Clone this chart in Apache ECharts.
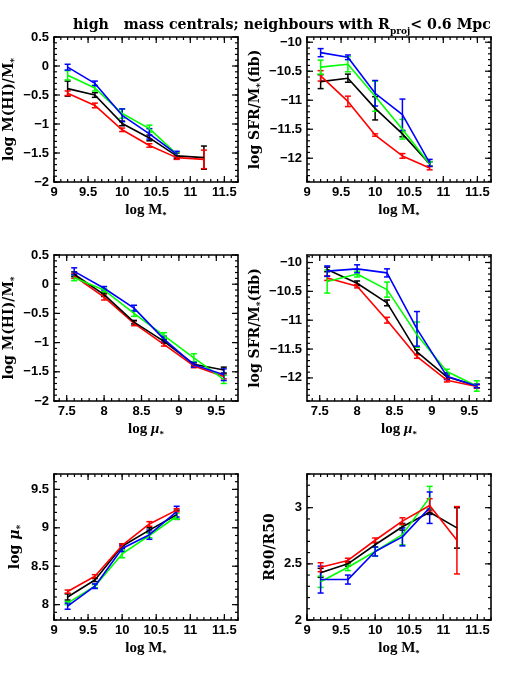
<!DOCTYPE html>
<html>
<head>
<meta charset="utf-8">
<script src="https://cdn.jsdelivr.net/npm/echarts@6/dist/echarts.min.js"></script>
<style>
html,body{margin:0;padding:0;background:#fff;}
#chart{width:518px;height:690px;}
</style>
</head>
<body>
<div id="chart"></div>
<script>
// ---------------- DATA ----------------
const xMass = [9.2, 9.6, 10.0, 10.4, 10.8, 11.2];
const xMu = [7.6, 8.0, 8.4, 8.8, 9.2, 9.6];

const massTicks = [9, 9.5, 10, 10.5, 11, 11.5];
const muTicks = [7.5, 8, 8.5, 9, 9.5];
const hiTicks = [0.5, 0, -0.5, -1, -1.5, -2];
const sfrTicks = [-10, -10.5, -11, -11.5, -12];
const muYTicks = [9.5, 9, 8.5, 8];
const rTicks = [3, 2.5, 2];

// Panel 1: log M(HI)/M* vs log M*
const p1Black = [-0.39, -0.50, -0.99, -1.24, -1.55, -1.58];
const p1BlackErr = [0.13, 0.04, 0.04, 0.05, 0.05, 0.20];
const p1Red = [-0.47, -0.68, -1.10, -1.37, -1.58, -1.61];
const p1RedErr = [0.04, 0.04, 0.03, 0.03, 0.03, 0.16];
const p1Green = [-0.16, -0.38, -0.82, -1.08, -1.52, null];
const p1GreenErr = [0.08, 0.05, 0.08, 0.06, 0.04, null];
const p1Blue = [-0.02, -0.30, -0.85, -1.17, -1.52, null];
const p1BlueErr = [0.05, 0.04, 0.11, 0.09, 0.05, null];

// Panel 2: log SFR/M*(fib) vs log M*
const p2Black = [-10.68, -10.62, -11.14, -11.58, -12.10, null];
const p2BlackErr = [0.12, 0.07, 0.20, 0.05, 0.04, null];
const p2Red = [-10.58, -11.02, -11.60, -11.96, -12.17, null];
const p2RedErr = [0.09, 0.09, 0.02, 0.04, 0.03, null];
const p2Green = [-10.43, -10.38, -10.93, -11.50, -12.10, null];
const p2GreenErr = [0.12, 0.13, 0.26, 0.17, 0.04, null];
const p2Blue = [-10.18, -10.26, -10.88, -11.25, -12.08, null];
const p2BlueErr = [0.07, 0.04, 0.22, 0.27, 0.06, null];

// Panel 3: log M(HI)/M* vs log mu*
const p3Black = [0.17, -0.18, -0.65, -0.98, -1.37, -1.47];
const p3BlackErr = [0.04, 0.03, 0.03, 0.03, 0.03, 0.05];
const p3Red = [0.14, -0.22, -0.67, -1.03, -1.40, -1.58];
const p3RedErr = [0.04, 0.05, 0.04, 0.03, 0.03, 0.04];
const p3Green = [0.11, -0.10, -0.50, -0.88, -1.26, -1.63];
const p3GreenErr = [0.05, 0.03, 0.05, 0.05, 0.07, 0.07];
const p3Blue = [0.22, -0.07, -0.41, -0.94, -1.38, -1.55];
const p3BlueErr = [0.06, 0.03, 0.05, 0.05, 0.04, 0.10];

// Panel 4: log SFR/M*(fib) vs log mu*
const p4Black = [-10.12, -10.36, -10.70, -11.55, -11.98, -12.14];
const p4BlackErr = [0.04, 0.04, 0.05, 0.04, 0.03, 0.03];
const p4Red = [-10.27, -10.41, -11.00, -11.63, -12.04, -12.15];
const p4RedErr = [0.04, 0.03, 0.05, 0.03, 0.03, 0.03];
const p4Green = [-10.33, -10.20, -10.47, -11.25, -11.89, -12.14];
const p4GreenErr = [0.20, 0.05, 0.13, 0.22, 0.04, 0.09];
const p4Blue = [-10.15, -10.11, -10.18, -11.15, -11.97, -12.14];
const p4BlueErr = [0.09, 0.07, 0.07, 0.30, 0.06, 0.03];

// Panel 5: log mu* vs log M*
const p5Black = [8.10, 8.32, 8.76, 8.97, 9.17, null];
const p5BlackErr = [0.04, 0.02, 0.03, 0.03, 0.06, null];
const p5Red = [8.17, 8.37, 8.77, 9.05, 9.23, null];
const p5RedErr = [0.02, 0.02, 0.02, 0.03, 0.02, null];
const p5Green = [8.02, 8.24, 8.66, 8.90, 9.15, null];
const p5GreenErr = [0.02, 0.02, 0.05, 0.03, 0.04, null];
const p5Blue = [7.98, 8.24, 8.73, 8.91, 9.21, null];
const p5BlueErr = [0.04, 0.03, 0.04, 0.06, 0.07, null];

// Panel 6: R90/R50 vs log M*
const p6Black = [2.42, 2.50, 2.67, 2.83, 2.96, 2.82];
const p6BlackErr = [0.04, 0.02, 0.02, 0.03, 0.02, 0.18];
const p6Red = [2.47, 2.53, 2.71, 2.88, 3.02, 2.71];
const p6RedErr = [0.04, 0.02, 0.02, 0.03, 0.06, 0.30];
const p6Green = [2.34, 2.47, 2.61, 2.76, 3.09, null];
const p6GreenErr = [0.05, 0.03, 0.04, 0.09, 0.10, null];
const p6Blue = [2.36, 2.36, 2.61, 2.74, 3.00, null];
const p6BlueErr = [0.12, 0.04, 0.04, 0.08, 0.14, null];

// ---------------- CHART ----------------
const COLORS = {black:'#000000', red:'#ff0000', green:'#00ff00', blue:'#0000ff'};
const SERIF = 'Liberation Serif';
const SERIF_Y = 'DejaVu Serif';
const SANS = 'Liberation Sans';

function richFor(family, size){
  return {
    a:{fontFamily:family, fontWeight:'bold', fontSize:size, color:'#000', lineHeight:20},
    i:{fontFamily:family, fontWeight:'bold', fontStyle:'italic', fontSize:size, color:'#000', lineHeight:20},
    s:{fontFamily:family, fontWeight:'bold', fontSize:9, color:'#000', verticalAlign:'bottom', lineHeight:20}
  };
}

const panels = [
  {grid:{left:54, top:37, width:184, height:145}, xMin:9, xMax:11.7, xTicks:massTicks, yMin:-2, yMax:0.5, yTicks:hiTicks,
   xName:'{a|log M}{s|*}', yName:'{a|log M(HI)/M}{s|*}', yGap:34, x:xMass,
   s:[['black',p1Black,p1BlackErr],['red',p1Red,p1RedErr],['green',p1Green,p1GreenErr],['blue',p1Blue,p1BlueErr]]},
  {grid:{left:307, top:37, width:184, height:145}, xMin:9, xMax:11.7, xTicks:massTicks, yMin:-12.41, yMax:-9.91, yTicks:sfrTicks,
   xName:'{a|log M}{s|*}', yName:'{a|log SFR/M}{s|*}{a|(fib)}', yGap:42, x:xMass,
   s:[['black',p2Black,p2BlackErr],['red',p2Red,p2RedErr],['green',p2Green,p2GreenErr],['blue',p2Blue,p2BlueErr]]},
  {grid:{left:54, top:255, width:184, height:146}, xMin:7.33, xMax:9.79, xTicks:muTicks, yMin:-2, yMax:0.5, yTicks:hiTicks,
   xName:'{a|log }{i|μ}{s|*}', yName:'{a|log M(HI)/M}{s|*}', yGap:34, x:xMu,
   s:[['red',p3Red,p3RedErr],['black',p3Black,p3BlackErr],['green',p3Green,p3GreenErr],['blue',p3Blue,p3BlueErr]]},
  {grid:{left:307, top:255, width:184, height:146}, xMin:7.33, xMax:9.79, xTicks:muTicks, yMin:-12.4, yMax:-9.87, yTicks:sfrTicks,
   xName:'{a|log }{i|μ}{s|*}', yName:'{a|log SFR/M}{s|*}{a|(fib)}', yGap:42, x:xMu,
   s:[['black',p4Black,p4BlackErr],['red',p4Red,p4RedErr],['green',p4Green,p4GreenErr],['blue',p4Blue,p4BlueErr]]},
  {grid:{left:54, top:474, width:184, height:146}, xMin:9, xMax:11.7, xTicks:massTicks, yMin:7.8, yMax:9.7, yTicks:muYTicks,
   xName:'{a|log M}{s|*}', yName:'{a|log }{i|μ}{s|*}', yGap:29, x:xMass,
   s:[['black',p5Black,p5BlackErr],['green',p5Green,p5GreenErr],['blue',p5Blue,p5BlueErr],['red',p5Red,p5RedErr]]},
  {grid:{left:307, top:474, width:184, height:146}, xMin:9, xMax:11.7, xTicks:massTicks, yMin:2, yMax:3.3, yTicks:rTicks,
   xName:'{a|log M}{s|*}', yName:'{a|R90/R50}', yGap:27, x:xMass,
   s:[['black',p6Black,p6BlackErr],['green',p6Green,p6GreenErr],['blue',p6Blue,p6BlueErr],['red',p6Red,p6RedErr]]}
];

function minorTicks(min, max){
  const out=[];
  const start=Math.ceil(min*10-1e-6), end=Math.floor(max*10+1e-6);
  for(let k=start;k<=end;k++) out.push(k/10);
  return out;
}
function fmt(v){
  const r=Math.round(v*100)/100;
  const s=String(Math.abs(r));
  return r<0 ? '\u2212'+s : s;
}

const grids=[], xAxes=[], yAxes=[], series=[];
panels.forEach((p,g)=>{
  grids.push(Object.assign({containLabel:false}, p.grid));
  const lineSt={show:true, onZero:false, lineStyle:{color:'#000', width:1.6}};
  xAxes.push({type:'value', gridIndex:g, position:'bottom', min:p.xMin, max:p.xMax,
    axisLine:lineSt, splitLine:{show:false}, axisTick:{show:false},
    axisLabel:{show:true, customValues:p.xTicks, formatter:fmt, margin:4, color:'#000', fontFamily:SANS, fontWeight:'bold', fontSize:13},
    name:p.xName, nameLocation:'middle', nameGap:18, nameTextStyle:{rich:richFor(SERIF, 15)}});
  xAxes.push({type:'value', gridIndex:g, position:'top', min:p.xMin, max:p.xMax,
    axisLine:lineSt, splitLine:{show:false}, axisLabel:{show:false}, axisTick:{show:false}});
  yAxes.push({type:'value', gridIndex:g, position:'left', min:p.yMin, max:p.yMax,
    axisLine:lineSt, splitLine:{show:false}, axisTick:{show:false},
    axisLabel:{show:true, customValues:p.yTicks, formatter:fmt, margin:5, color:'#000', fontFamily:SANS, fontWeight:'bold', fontSize:13},
    name:p.yName, nameLocation:'middle', nameGap:p.yGap, nameTextStyle:{rich:richFor(SERIF_Y, 14)}});
  yAxes.push({type:'value', gridIndex:g, position:'right', min:p.yMin, max:p.yMax,
    axisLine:lineSt, splitLine:{show:false}, axisLabel:{show:false}, axisTick:{show:false}});

  // tick marks on all four sides (major from tick arrays, minor every 0.1)
  const tickData=[];
  minorTicks(p.xMin,p.xMax).forEach(v=>tickData.push([v,1]));
  p.xTicks.forEach(v=>tickData.push([v,0]));
  minorTicks(p.yMin,p.yMax).forEach(v=>tickData.push([v,3]));
  p.yTicks.forEach(v=>tickData.push([v,2]));
  series.push({type:'custom', xAxisIndex:2*g, yAxisIndex:2*g, data:tickData,
    animation:false, silent:true, z:5, clip:false,
    renderItem:function(params, api){
      const cs=params.coordSys;
      const v=api.value(0), k=api.value(1);
      const st={stroke:'#000', lineWidth:1.2};
      if(k<2){
        const len=k===0?6:3;
        const px=api.coord([v,p.yMin])[0];
        const yb=cs.y+cs.height, yt=cs.y;
        return {type:'group', children:[
          {type:'line', shape:{x1:px,y1:yb,x2:px,y2:yb-len}, style:st},
          {type:'line', shape:{x1:px,y1:yt,x2:px,y2:yt+len}, style:st}
        ]};
      } else {
        const len=k===2?6:3;
        const py=api.coord([p.xMin,v])[1];
        const xl=cs.x, xr=cs.x+cs.width;
        return {type:'group', children:[
          {type:'line', shape:{x1:xl,y1:py,x2:xl+len,y2:py}, style:st},
          {type:'line', shape:{x1:xr,y1:py,x2:xr-len,y2:py}, style:st}
        ]};
      }
    }});

  p.s.forEach(([cname, ys, es])=>{
    const color=COLORS[cname];
    const lineData=[], errData=[];
    ys.forEach((y,i)=>{
      if(y===null||y===undefined) return;
      lineData.push([p.x[i], y]);
      errData.push([p.x[i], y, es[i]]);
    });
    series.push({type:'line', xAxisIndex:2*g, yAxisIndex:2*g, data:lineData,
      showSymbol:false, symbol:'none', lineStyle:{color, width:1.6}, itemStyle:{color}, animation:false, silent:true});
    series.push({type:'custom', xAxisIndex:2*g, yAxisIndex:2*g, data:errData,
      encode:{x:0, y:1}, animation:false, silent:true, z:3,
      renderItem:function(params, api){
        const x=api.value(0), y=api.value(1), e=api.value(2);
        const a=api.coord([x,y+e]), b=api.coord([x,y-e]);
        const w=3;
        const st={stroke:color, lineWidth:1.5, fill:null};
        return {type:'group', children:[
          {type:'line', shape:{x1:a[0],y1:a[1],x2:b[0],y2:b[1]}, style:st},
          {type:'line', shape:{x1:a[0]-w,y1:a[1],x2:a[0]+w,y2:a[1]}, style:st},
          {type:'line', shape:{x1:b[0]-w,y1:b[1],x2:b[0]+w,y2:b[1]}, style:st}
        ]};
      }});
  });
});

const chart=echarts.init(document.getElementById('chart'), null, {renderer:'canvas'});
chart.setOption({
  animation:false,
  backgroundColor:'#ffffff',
  title:{
    text:'{a|high   mass centrals; neighbours with R}{s|proj}{a|< 0.6 Mpc}',
    left:68, top:9,
    textStyle:{rich:{
      a:{fontFamily:'DejaVu Serif', fontWeight:'bold', fontSize:14.2, color:'#000', lineHeight:22},
      s:{fontFamily:'DejaVu Serif', fontWeight:'bold', fontSize:9, color:'#000', verticalAlign:'bottom', lineHeight:22}
    }}
  },
  grid:grids, xAxis:xAxes, yAxis:yAxes, series:series
});
</script>
</body>
</html>
